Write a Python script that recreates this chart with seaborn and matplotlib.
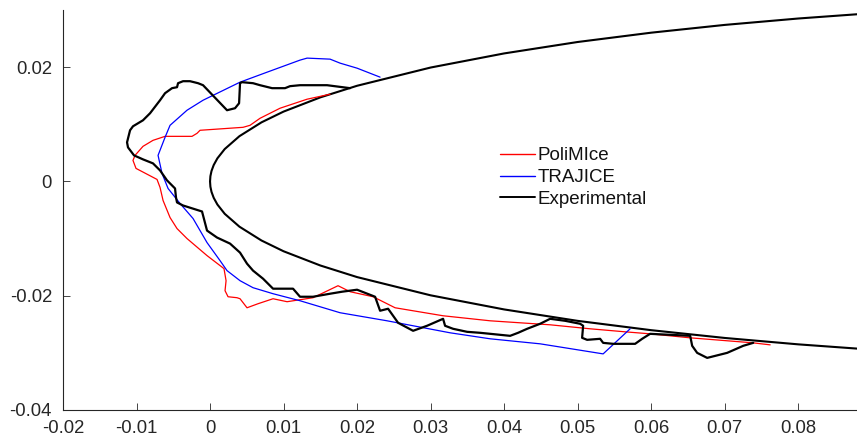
import matplotlib
matplotlib.use("Agg")
import matplotlib.pyplot as plt
import seaborn as sns
import pandas as pd

# Airfoil leading-edge contour (upper surface; lower surface mirrored)
airfoil_x = [0.0, 0.00005, 0.0002, 0.0005, 0.001, 0.002, 0.004, 0.007, 0.01, 0.015,
             0.02, 0.03, 0.04, 0.05, 0.06, 0.07, 0.08, 0.09]
airfoil_y = [0.0, 0.00092, 0.00183, 0.00287, 0.00404, 0.00567, 0.00792, 0.01034, 0.01222,
             0.01471, 0.01674, 0.01993, 0.02240, 0.02440, 0.02603, 0.02739, 0.02851, 0.02944]

# Experimental ice shape
exp_x = [0.01905, 0.01592, 0.01224, 0.01088, 0.01020, 0.00844, 0.00680, 0.00585, 0.00435,
         0.00408, 0.00395, 0.00340, 0.00231, -0.00095, -0.00163, -0.00272, -0.00367, -0.00435,
         -0.00449, -0.00517, -0.00612, -0.00680, -0.00816, -0.00912, -0.01048, -0.01088,
         -0.01129, -0.01116, -0.01034, -0.00912, -0.00776, -0.00680, -0.00585, -0.00476,
         -0.00463, -0.00449, -0.00367, -0.00109, -0.00041, 0.00095, 0.00272, 0.00408, 0.00503,
         0.00585, 0.00721, 0.00857, 0.01129, 0.01224, 0.01401, 0.01633, 0.01796, 0.02000,
         0.02245, 0.02313, 0.02422, 0.02558, 0.02762, 0.02952, 0.03170, 0.03197, 0.03306,
         0.03497, 0.03673, 0.04082, 0.04190, 0.04313, 0.04490, 0.04626, 0.04830, 0.05034,
         0.05075, 0.05061, 0.05129, 0.05306, 0.05347, 0.05483, 0.05782, 0.05878, 0.05986,
         0.06259, 0.06531, 0.06558, 0.06626, 0.06762, 0.07034, 0.07252, 0.07388]
exp_y = [0.01632, 0.01684, 0.01684, 0.01667, 0.01632, 0.01632, 0.01684, 0.01719, 0.01737,
         0.01719, 0.01368, 0.01281, 0.01246, 0.01684, 0.01719, 0.01754, 0.01754, 0.01719,
         0.01649, 0.01632, 0.01544, 0.01421, 0.01193, 0.01070, 0.00965, 0.00895,
         0.00684, 0.00596, 0.00456, 0.00386, 0.00316, 0.00193, 0.00018, -0.00123,
         -0.00281, -0.00368, -0.00421, -0.00526, -0.00860, -0.00982, -0.01088, -0.01246, -0.01439,
         -0.01561, -0.01702, -0.01877, -0.01877, -0.02018, -0.02018, -0.01965, -0.01930, -0.01895,
         -0.02018, -0.02263, -0.02228, -0.02474, -0.02614, -0.02526, -0.02404, -0.02526, -0.02579,
         -0.02632, -0.02649, -0.02702, -0.02649, -0.02579, -0.02491, -0.02404, -0.02439, -0.02491,
         -0.02526, -0.02737, -0.02772, -0.02754, -0.02825, -0.02842, -0.02842, -0.02754, -0.02667,
         -0.02684, -0.02702, -0.02877, -0.03000, -0.03088, -0.03000, -0.02877, -0.02825]

# PoliMIce
poli_x = [0.01633, 0.01320, 0.00952, 0.00680, 0.00544, 0.00449, -0.00136, -0.00177, -0.00245,
          -0.00612, -0.00776, -0.00912, -0.01020, -0.01048, -0.01007, -0.00721, -0.00680,
          -0.00639, -0.00544, -0.00449, -0.00313, -0.00041, 0.00190, 0.00218, 0.00204, 0.00245,
          0.00367, 0.00408, 0.00503, 0.00653, 0.00857, 0.01048, 0.01401, 0.01741, 0.01905,
          0.02218, 0.02517, 0.02680, 0.03170, 0.03810, 0.04626, 0.05170, 0.05646, 0.05986,
          0.06531, 0.07388, 0.07619]
poli_y = [0.01526, 0.01439, 0.01281, 0.01105, 0.00982, 0.00947, 0.00895, 0.00842, 0.00789,
          0.00789, 0.00719, 0.00614, 0.00456, 0.00368, 0.00228, 0.00035, -0.00105,
          -0.00333, -0.00632, -0.00825, -0.01000, -0.01298, -0.01526, -0.01737, -0.01912, -0.02018,
          -0.02035, -0.02053, -0.02211, -0.02140, -0.02053, -0.02105, -0.02035, -0.01825, -0.01930,
          -0.02018, -0.02211, -0.02246, -0.02351, -0.02439, -0.02509, -0.02579, -0.02632, -0.02667,
          -0.02737, -0.02825, -0.02860]

# TRAJICE
traj_x = [0.02313, 0.02000, 0.01769, 0.01633, 0.01320, 0.01224, 0.00776, 0.00408, -0.00095,
          -0.00313, -0.00544, -0.00612, -0.00707, -0.00653, -0.00571, -0.00408, -0.00231,
          -0.00041, 0.00136, 0.00231, 0.00408, 0.00585, 0.00857, 0.01224, 0.01769, 0.02408,
          0.02762, 0.03265, 0.03810, 0.04490, 0.05347, 0.05714]
traj_y = [0.01825, 0.01982, 0.02070, 0.02140, 0.02158, 0.02123, 0.01912, 0.01737, 0.01421,
          0.01246, 0.00982, 0.00772, 0.00456, 0.00140, -0.00123, -0.00386, -0.00649,
          -0.01070, -0.01386, -0.01561, -0.01737, -0.01860, -0.01965, -0.02088, -0.02298, -0.02439,
          -0.02526, -0.02649, -0.02754, -0.02842, -0.03018, -0.02579]

series_labels = ["PoliMIce", "TRAJICE", "Experimental"]
xticks = [-0.02, -0.01, 0, 0.01, 0.02, 0.03, 0.04, 0.05, 0.06, 0.07, 0.08]
xticklabels = ["-0.02", "-0.01", "0", "0.01", "0.02", "0.03", "0.04", "0.05", "0.06", "0.07", "0.08"]
yticks = [-0.04, -0.02, 0, 0.02]
yticklabels = ["-0.04", "-0.02", "0", "0.02"]

sns.set_theme(style="ticks")
plt.rcParams["font.family"] = ["Liberation Sans", "DejaVu Sans"]
plt.rcParams["xtick.direction"] = "in"
plt.rcParams["ytick.direction"] = "in"

fig = plt.figure(figsize=(8.57, 4.43), dpi=100)
ax = fig.add_axes([63 / 857, 33 / 443, 794 / 857, 400 / 443])

# airfoil: lower surface reversed + upper surface
af_x = airfoil_x[::-1] + airfoil_x[1:]
af_y = [-v for v in airfoil_y[::-1]] + airfoil_y[1:]
af = pd.DataFrame({"x": af_x, "y": af_y})
sns.lineplot(data=af, x="x", y="y", sort=False, estimator=None, color="black",
             linewidth=1.5, ax=ax, legend=False)

poli = pd.DataFrame({"x": poli_x, "y": poli_y})
traj = pd.DataFrame({"x": traj_x, "y": traj_y})
exp = pd.DataFrame({"x": exp_x, "y": exp_y})
sns.lineplot(data=poli, x="x", y="y", sort=False, estimator=None, color="#ff0000",
             linewidth=0.9, ax=ax, label=series_labels[0])
sns.lineplot(data=traj, x="x", y="y", sort=False, estimator=None, color="#0000ff",
             linewidth=0.9, ax=ax, label=series_labels[1])
sns.lineplot(data=exp, x="x", y="y", sort=False, estimator=None, color="black",
             linewidth=1.6, ax=ax, label=series_labels[2])

ax.set_xlim(-0.02, 0.0880)
ax.set_ylim(-0.04, 0.0300)
ax.set_xticks(xticks)
ax.set_xticklabels(xticklabels)
ax.set_yticks(yticks)
ax.set_yticklabels(yticklabels)
ax.set_xlabel("")
ax.set_ylabel("")
ax.tick_params(labelsize=13.3, length=5, width=0.6, colors="#262626", labelcolor="#262626")
ax.tick_params(axis="x", pad=7)
ax.tick_params(axis="y", pad=8)
for s in ["top", "right"]:
    ax.spines[s].set_visible(False)
for s in ["left", "bottom"]:
    ax.spines[s].set_linewidth(0.8)
    ax.spines[s].set_color("#262626")

leg = ax.legend(loc="upper left", bbox_to_anchor=(0.55, 0.657), frameon=False,
                fontsize=13.5, handlelength=1.87, handletextpad=0.16, labelspacing=0.25,
                borderpad=0.0, borderaxespad=0.0)
for t in leg.get_texts():
    t.set_color("#111111")
for h in leg.get_lines():
    h.set_linewidth(1.0)
leg.get_lines()[2].set_linewidth(1.4)

fig.savefig("out.png", dpi=100)
